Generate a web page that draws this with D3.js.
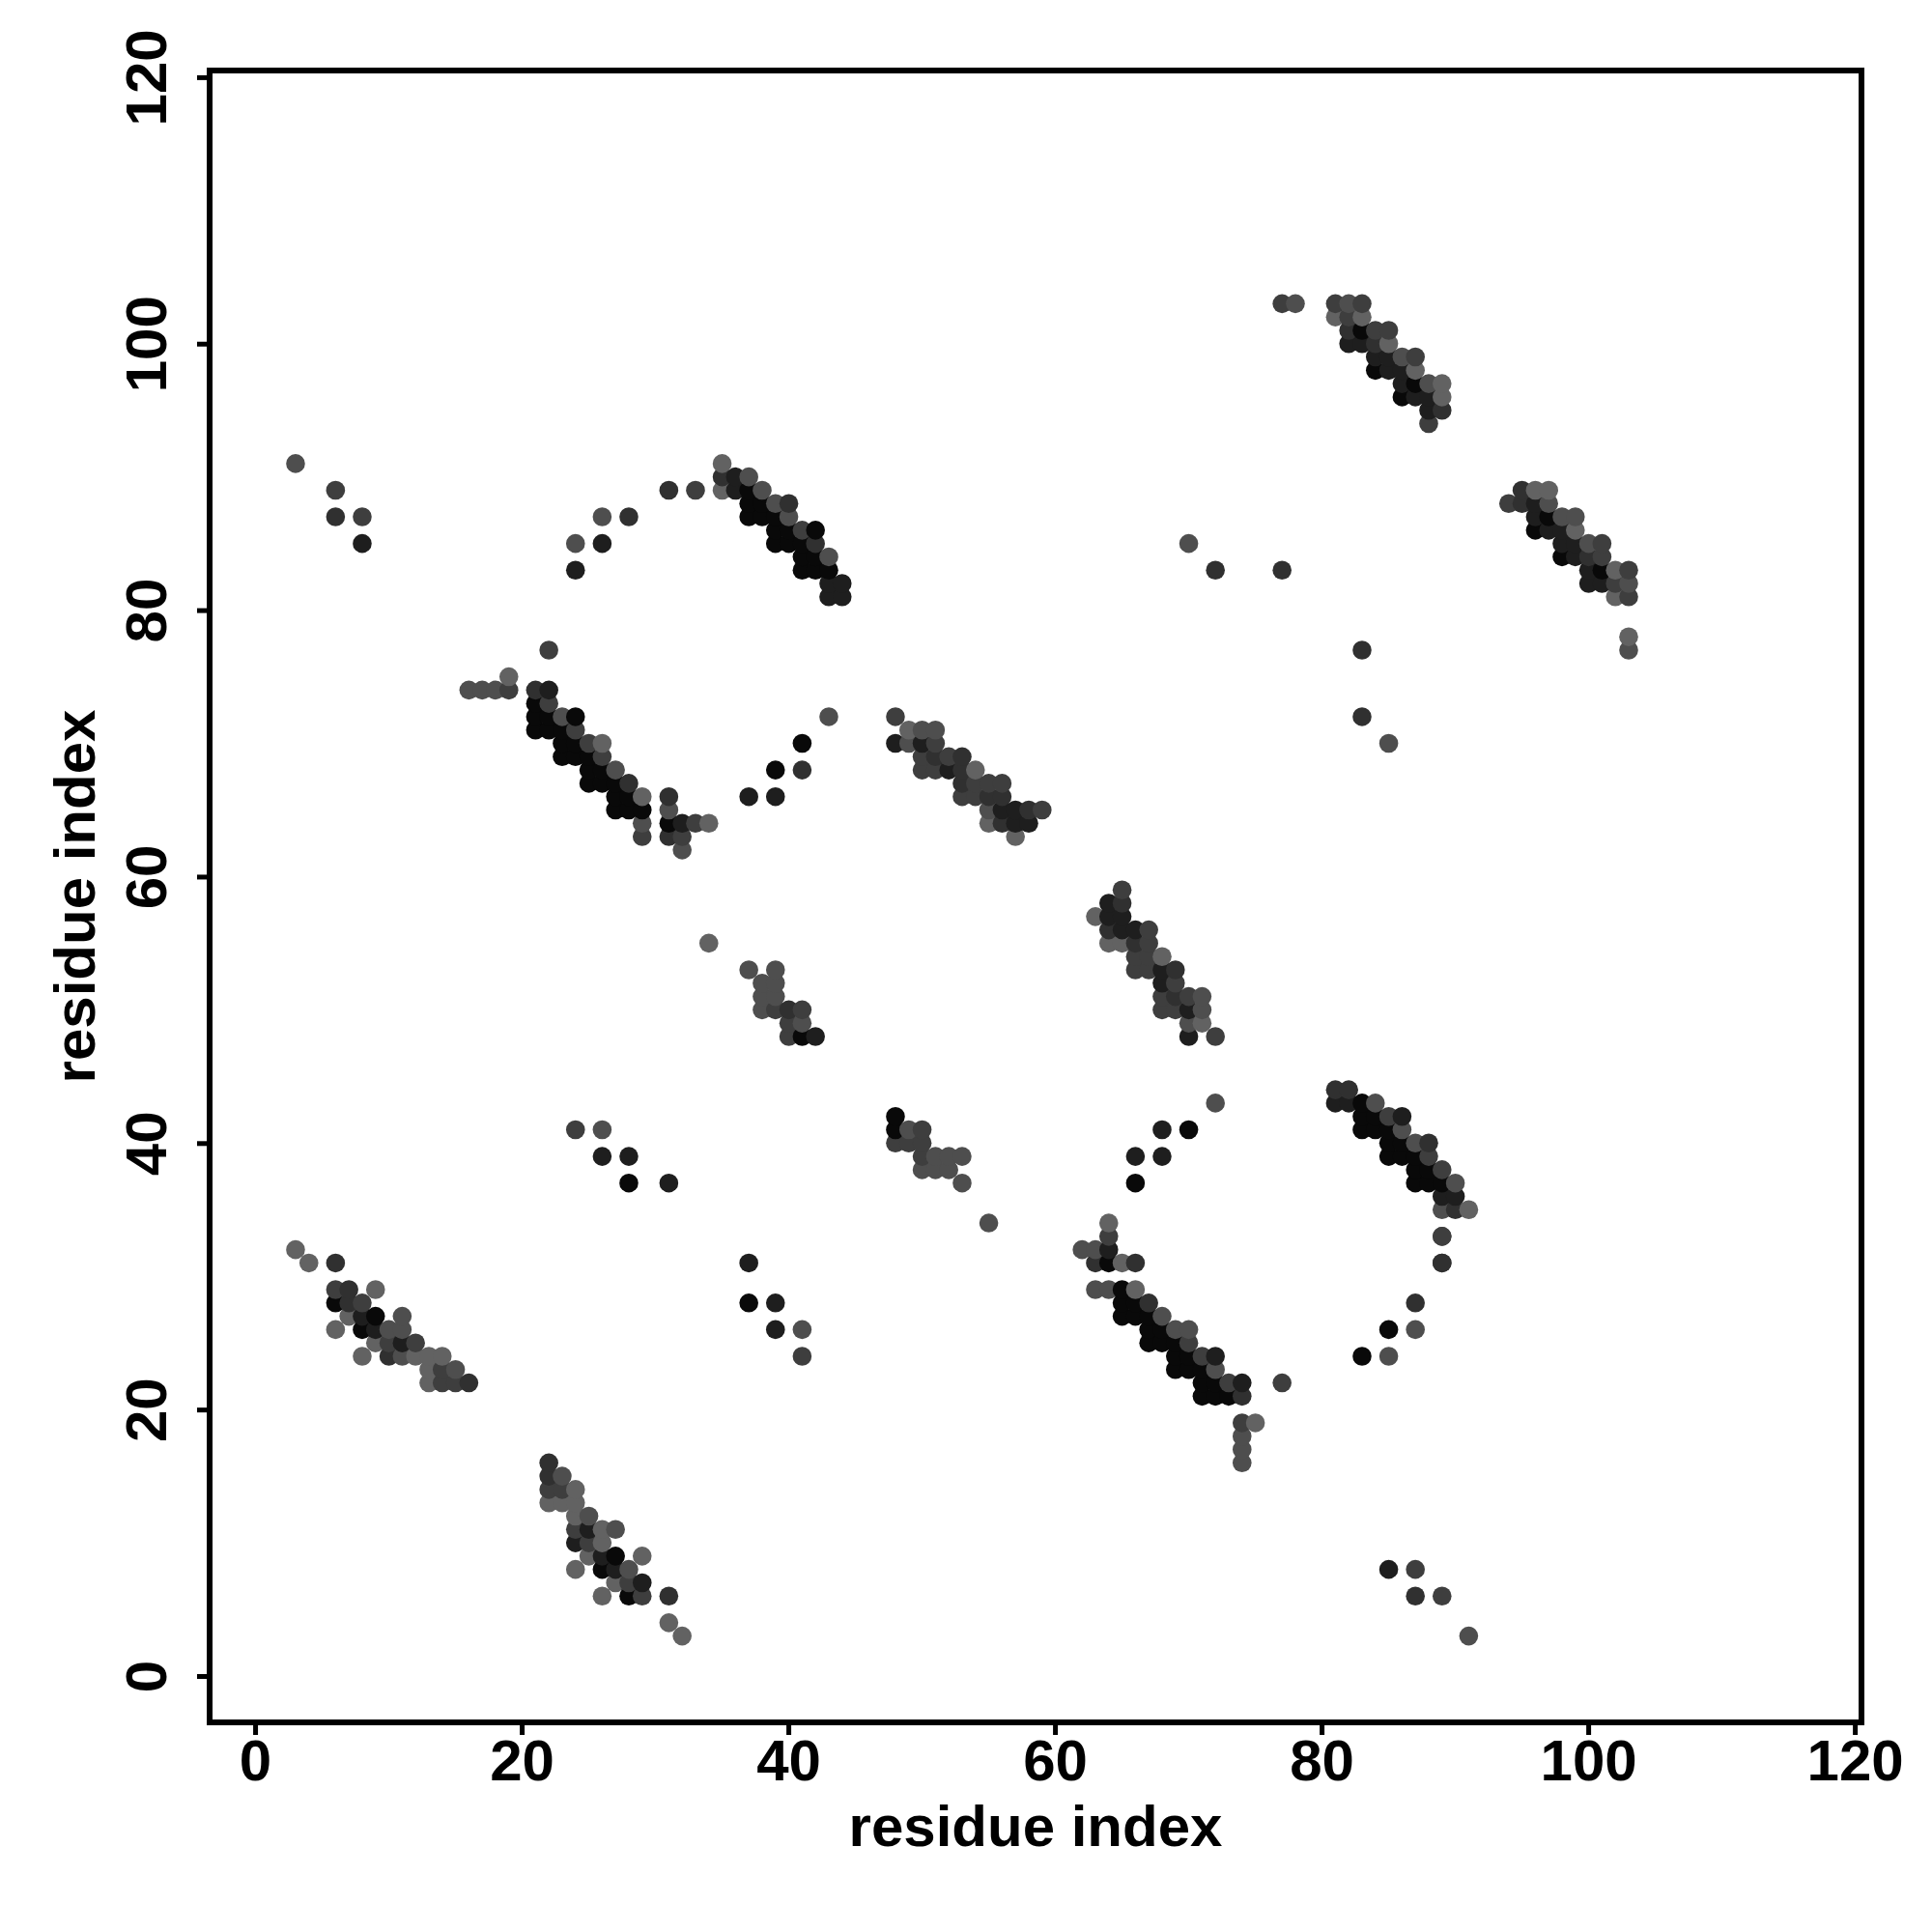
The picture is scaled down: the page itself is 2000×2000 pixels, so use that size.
<!DOCTYPE html>
<html><head><meta charset="utf-8">
<script src="https://cdn.jsdelivr.net/npm/d3@7"></script>
<style>html,body{margin:0;background:#fff}svg{display:block}text{font-family:"Liberation Sans",Arial,sans-serif;font-weight:700;fill:#000}</style>
</head><body><svg id="c" width="2000" height="2000"></svg>
<script>
// contacts: [residue x, residue y, shade 0 (black) .. 5 (grey)]
const clusterA=[[3,32,5],[4,31,5],[6,31,2],[6,29,3],[7,29,2],[9,29,5],[6,28,0],[7,28,2],[8,28,3],[7,27,5],[8,27,1],[9,27,0],[11,27,4],[6,26,5],[8,26,0],[9,26,1],[10,26,4],[11,26,4],[9,25,5],[10,25,3],[11,25,1],[12,25,3],[8,24,5],[10,24,2],[11,24,4],[12,24,5],[13,24,5],[14,24,5],[13,23,5],[14,23,3],[15,23,4],[13,22,5],[14,22,3],[15,22,3],[16,22,2]];
const clusterB=[[22,16,2],[22,15,2],[23,15,4],[22,14,3],[23,14,3],[24,14,5],[22,13,5],[23,13,5],[24,13,5],[24,12,5],[25,12,4],[24,11,3],[25,11,1],[26,11,5],[27,11,4],[24,10,1],[25,10,3],[26,10,5],[25,9,5],[26,9,1],[27,9,0],[29,9,5],[24,8,5],[26,8,0],[27,8,1],[28,8,4],[27,7,5],[28,7,3],[29,7,1],[26,6,5],[28,6,0],[29,6,3],[31,6,2],[31,4,5],[32,3,5]];
const clusterC=[[64,34,5],[64,33,3],[62,32,4],[63,32,4],[64,32,1],[63,31,2],[64,31,0],[65,31,5],[66,31,2],[63,29,4],[64,29,4],[65,29,0],[66,29,5],[65,28,0],[66,28,0],[67,28,2],[65,27,0],[66,27,0],[67,27,0],[68,27,4],[67,26,0],[68,26,0],[69,26,4],[70,26,4],[67,25,0],[68,25,0],[69,25,0],[70,25,3],[69,24,0],[70,24,0],[71,24,3],[72,24,1],[69,23,0],[70,23,0],[71,23,0],[72,23,4],[71,22,0],[72,22,0],[73,22,3],[74,22,1],[71,21,0],[72,21,0],[73,21,0],[74,21,2],[77,22,3],[74,19,3],[75,19,5],[74,18,4],[74,17,4],[74,16,4]];
const clusterD=[[81,44,2],[82,44,2],[81,43,1],[82,43,1],[83,43,0],[84,43,4],[83,42,0],[84,42,0],[85,42,3],[86,42,1],[83,41,0],[84,41,0],[85,41,0],[86,41,4],[85,40,0],[86,40,0],[87,40,4],[88,40,2],[85,39,0],[86,39,0],[87,39,0],[88,39,3],[87,38,0],[88,38,0],[89,38,3],[87,37,0],[88,37,0],[89,37,0],[90,37,4],[89,36,1],[90,36,1],[89,35,4],[90,35,2],[91,35,5],[89,33,3],[89,31,2]];
const clusterE=[[22,77,3],[19,75,5],[16,74,4],[17,74,4],[18,74,4],[19,74,3],[21,74,2],[22,74,1],[21,73,0],[22,73,3],[21,72,0],[22,72,0],[23,72,4],[24,72,0],[21,71,0],[22,71,0],[23,71,0],[24,71,3],[23,70,0],[24,70,0],[25,70,3],[26,70,5],[23,69,0],[24,69,0],[25,69,0],[26,69,3],[25,68,0],[26,68,0],[27,68,4],[25,67,0],[26,67,0],[27,67,0],[28,67,2],[27,66,0],[28,66,0],[29,66,5],[31,66,2],[27,65,0],[28,65,0],[29,65,0],[31,65,4],[29,64,4],[31,64,0],[32,64,1],[33,64,3],[34,64,5],[29,63,3],[31,63,2],[32,63,3],[32,62,4]];
const clusterF=[[35,91,5],[35,90,2],[36,90,1],[37,90,4],[35,89,5],[36,89,1],[37,89,0],[38,89,4],[37,88,0],[38,88,0],[39,88,4],[40,88,2],[37,87,0],[38,87,0],[39,87,0],[40,87,4],[39,86,0],[40,86,0],[41,86,3],[42,86,0],[39,85,0],[40,85,0],[41,85,0],[42,85,2],[41,84,0],[42,84,0],[43,84,4],[41,83,0],[42,83,0],[43,83,0],[43,82,1],[44,82,1],[43,81,1],[44,81,1]];
const clusterG=[[81,103,3],[82,103,4],[83,103,3],[81,102,5],[82,102,3],[83,102,5],[82,101,2],[83,101,0],[84,101,3],[85,101,3],[82,100,1],[83,100,1],[84,100,2],[85,100,5],[84,99,1],[85,99,1],[86,99,4],[87,99,3],[84,98,0],[85,98,1],[86,98,1],[87,98,5],[86,97,1],[87,97,0],[88,97,4],[89,97,5],[86,96,0],[87,96,1],[88,96,1],[89,96,5],[88,95,1],[89,95,2],[88,94,3]];
const clusterH=[[95,89,2],[96,89,5],[97,89,5],[94,88,3],[95,88,2],[96,88,1],[97,88,4],[96,87,1],[97,87,0],[98,87,4],[99,87,4],[96,86,0],[97,86,1],[98,86,1],[99,86,5],[98,85,1],[99,85,1],[100,85,4],[101,85,3],[98,84,0],[99,84,1],[100,84,2],[101,84,3],[100,83,1],[101,83,0],[102,83,5],[103,83,3],[100,82,1],[101,82,1],[102,82,3],[103,82,4],[102,81,5],[103,81,3],[103,78,5],[103,77,4]];
const clusterI=[[48,72,3],[49,71,5],[50,71,4],[51,71,4],[48,70,1],[49,70,4],[50,70,1],[51,70,3],[50,69,3],[51,69,2],[52,69,3],[53,69,2],[50,68,3],[51,68,3],[52,68,1],[53,68,2],[54,68,5],[53,67,2],[54,67,3],[55,67,3],[56,67,3],[53,66,3],[54,66,3],[55,66,2],[56,66,2],[55,65,4],[56,65,1],[57,65,1],[58,65,2],[59,65,3],[55,64,5],[56,64,2],[57,64,1],[58,64,1],[57,63,5]];
const clusterJ=[[65,59,3],[64,58,1],[65,58,2],[63,57,5],[64,57,1],[65,57,1],[64,56,2],[65,56,1],[66,56,1],[67,56,3],[64,55,5],[65,55,5],[66,55,2],[67,55,3],[66,54,3],[67,54,3],[68,54,5],[66,53,3],[67,53,3],[68,53,1],[69,53,2],[68,52,1],[69,52,3],[68,51,3],[69,51,2],[70,51,3],[71,51,4],[68,50,3],[69,50,3],[70,50,1],[71,50,4],[70,49,4],[71,49,5],[70,48,1],[72,48,3]];
const clusterK=[[34,55,5],[37,53,4],[39,53,4],[38,52,4],[39,52,4],[38,51,4],[39,51,4],[38,50,4],[39,50,3],[40,50,2],[41,50,3],[40,49,3],[41,49,4],[40,48,3],[41,48,0],[42,48,1]];
const clusterL=[[48,42,0],[48,41,0],[49,41,4],[50,41,3],[48,40,3],[49,40,3],[50,40,3],[50,39,3],[51,39,4],[52,39,4],[53,39,4],[50,38,4],[51,38,4],[52,38,4],[53,37,4],[55,34,4]];
const isolated=[[3,91,4],[6,89,3],[6,87,2],[8,87,3],[8,85,1],[24,85,4],[26,87,4],[28,87,2],[24,83,1],[26,85,1],[31,89,2],[33,89,3],[43,72,4],[41,70,0],[39,68,0],[41,68,2],[37,66,1],[39,66,1],[70,85,4],[72,83,2],[77,83,2],[77,103,3],[78,103,4],[83,77,2],[83,72,2],[85,70,4],[24,41,3],[26,41,4],[26,39,1],[28,39,1],[28,37,0],[31,37,1],[72,43,4],[70,41,0],[68,41,1],[66,39,1],[68,39,1],[66,37,0],[37,31,1],[37,28,0],[39,28,1],[39,26,1],[41,26,4],[41,24,3],[89,33,3],[89,31,2],[87,28,2],[85,26,0],[87,26,4],[83,24,0],[85,24,4],[85,8,1],[87,8,3],[87,6,2],[89,6,3],[91,3,4]];
const tickValues=[0,20,40,60,80,100,120];
const xLabel="residue index", yLabel="residue index";

const contacts=[clusterA,clusterB,clusterC,clusterD,clusterE,clusterF,clusterG,clusterH,clusterI,clusterJ,clusterK,clusterL,isolated].flat()
  .sort((a,b)=>d3.ascending(a[0],b[0])||d3.ascending(a[1],b[1]));

const box={l:217,r:1927,t:73,b:1783};
const x=d3.scaleLinear().domain([-3.41,120.5]).range([box.l,box.r]);
const y=d3.scaleLinear().domain([-3.48,120.5]).range([box.b,box.t]);
const shade=d3.scaleLinear().domain([0,1,2,3,4,5]).range(["#090909","#1e1e1e","#303030","#3e3e3e","#4e4e4e","#626262"]);
const svg=d3.select("#c");

svg.append("g").selectAll("circle").data(contacts).join("circle")
  .attr("cx",d=>x(d[0])+0.5).attr("cy",d=>y(d[1])).attr("r",9.8).attr("fill",d=>shade(d[2]));

svg.append("rect").attr("x",box.l).attr("y",box.t).attr("width",box.r-box.l).attr("height",box.b-box.t)
  .attr("fill","none").attr("stroke","#000").attr("stroke-width",6);

const gx=svg.append("g").attr("transform",`translate(0,${box.b})`)
  .call(d3.axisBottom(x).tickValues(tickValues).tickSize(13).tickPadding(10).tickFormat(d3.format("d")));
const gy=svg.append("g").attr("transform",`translate(${box.l},0)`)
  .call(d3.axisLeft(y).tickValues(tickValues).tickSize(13).tickPadding(10).tickFormat(d3.format("d")));
[gx,gy].forEach(g=>{
  g.select(".domain").remove();
  g.selectAll("line").attr("stroke","#000").attr("stroke-width",5);
  g.selectAll("text").style("font-size","60px").style("font-family",'"Liberation Sans"').style("font-weight",700).attr("fill","#000");
});
gx.selectAll("text").attr("y",12).attr("dy","0.8em");
gy.selectAll("text").attr("x",0).attr("y",0).attr("dy",0).attr("text-anchor","middle")
  .attr("transform","translate(-45,0) rotate(-90)");

svg.append("text").attr("x",1072).attr("y",1911).attr("text-anchor","middle").style("font-size","60px").text(xLabel);
svg.append("text").attr("transform","translate(98,928) rotate(-90)").attr("text-anchor","middle").style("font-size","60px").text(yLabel);
</script></body></html>
